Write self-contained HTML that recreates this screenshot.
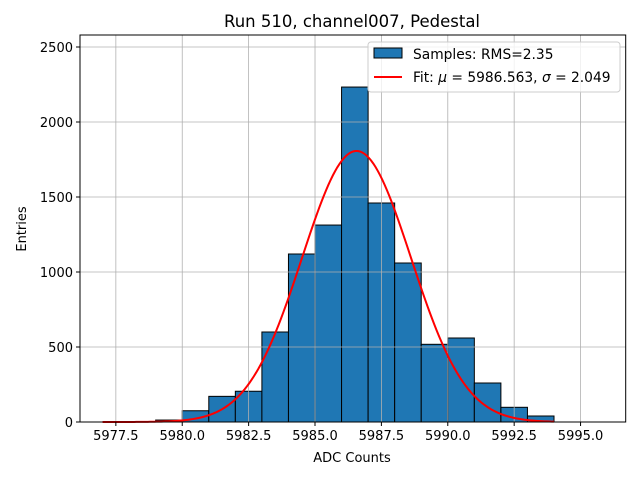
<!DOCTYPE html>
<html><head><meta charset="utf-8"><style>
body{margin:0;background:#fff}
svg text{font-family:"DejaVu Sans","Liberation Sans",sans-serif;fill:#000}
</style></head><body>
<svg id="c" width="640" height="480"></svg>
<script>
const binEdges=[5979,5980,5981,5982,5983,5984,5985,5986,5987,5988,5989,5990,5991,5992,5993];
const counts=[13,75,171,205,600,1120,1313,2233,1460,1060,518,560,260,98,40];
const xTicks=[5977.5,5980.0,5982.5,5985.0,5987.5,5990.0,5992.5,5995.0];
const yTicks=[0,500,1000,1500,2000,2500];
const fitMu=5986.563, fitSigma=2.049, fitAmp=1807, fitStart=5977, fitEnd=5994;
const L=80,R=625.7,T=35,B=422;
const X0=5976.15,X1=5996.7,Y1=2580;
const xs=v=>L+(v-X0)/(X1-X0)*(R-L);
const ys=v=>B-v/Y1*(B-T);
const svg=document.getElementById('c');
const NS='http://www.w3.org/2000/svg';
function mk(t,a,p){const e=document.createElementNS(NS,t);for(const k in a)e.setAttribute(k,a[k]);(p||svg).appendChild(e);return e;}
// bars
counts.forEach((c,i)=>{const x=xs(binEdges[i]),w=xs(binEdges[i]+1)-x;
const r=mk('rect',{x:x,y:ys(c),width:w,height:B-ys(c),fill:'#1f77b4',stroke:'#000','stroke-width':1});

});
// grid (above bars)
xTicks.forEach(v=>{const l=mk('line',{x1:xs(v),x2:xs(v),y1:T,y2:B,stroke:'#b0b0b0','stroke-width':0.8});

});
yTicks.forEach(v=>{const l=mk('line',{x1:L,x2:R,y1:ys(v),y2:ys(v),stroke:'#b0b0b0','stroke-width':0.8});

});
// fit
let d='';for(let i=0;i<=200;i++){const v=fitStart+(fitEnd-fitStart)*i/200;const y=fitAmp*Math.exp(-0.5*((v-fitMu)/fitSigma)**2);d+=(i?'L':'M')+xs(v).toFixed(2)+' '+ys(y).toFixed(2);}
const fp=mk('path',{d:d,fill:'none',stroke:'#ff0000','stroke-width':2});


// axes frame
const fr=mk('rect',{x:L,y:T,width:R-L,height:B-T,fill:'none',stroke:'#000','stroke-width':1});


xTicks.forEach(v=>{mk('line',{x1:xs(v),x2:xs(v),y1:B,y2:B+4,stroke:'#000'});
const t=mk('text',{x:xs(v),y:B+18,'text-anchor':'middle','font-size':13});t.textContent=v.toFixed(1);

});
yTicks.forEach(v=>{mk('line',{x1:L-4,x2:L,y1:ys(v),y2:ys(v),stroke:'#000'});
const t=mk('text',{x:L-7,y:ys(v)+5,'text-anchor':'end','font-size':13});t.textContent=v;

});
</script>
<svg width="640" height="480" style="position:absolute;left:0;top:0">
<text x="352" y="27" text-anchor="middle" font-size="16.5">Run 510, channel007, Pedestal</text>
<text x="352" y="462" text-anchor="middle" font-size="13">ADC Counts</text>
<text x="26" y="229" text-anchor="middle" font-size="13" transform="rotate(-90 26 229)">Entries</text>
<g>
<rect x="368" y="42" width="252" height="50" rx="3" fill="#fff" fill-opacity="0.8" stroke="#ccc"/>
<rect x="374" y="48" width="28" height="10" fill="#1f77b4" stroke="#000"/>
<text x="413" y="59" font-size="13.8">Samples: RMS=2.35</text>
<line x1="374" x2="402" y1="77" y2="77" stroke="#ff0000" stroke-width="2"/>
<text x="413" y="82" font-size="13.8">Fit: <tspan font-style="italic">μ</tspan> = 5986.563, <tspan font-style="italic">σ</tspan> = 2.049</text>
</g>
</svg>
</body></html>
